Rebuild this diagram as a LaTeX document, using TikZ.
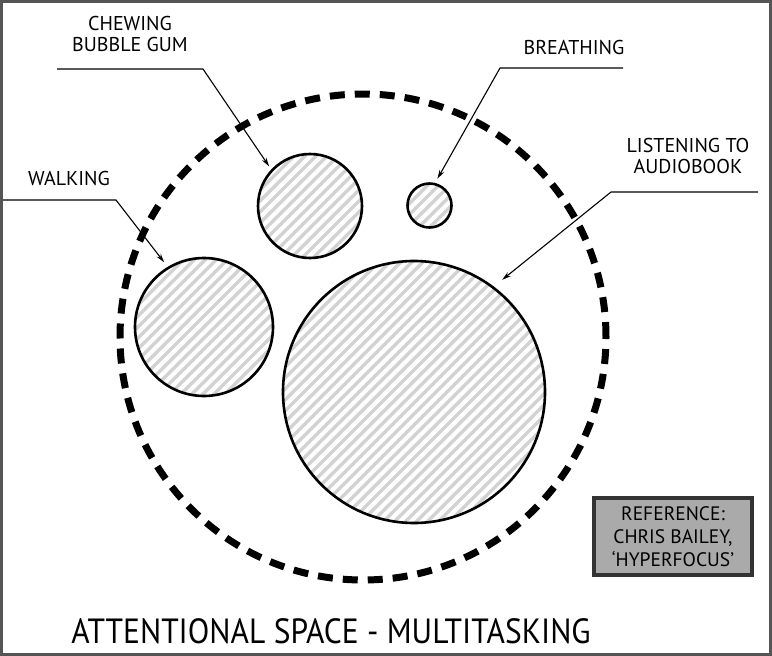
\documentclass[tikz,border=0pt]{standalone}
\usepackage{fontspec}
\setmainfont{PT Sans}
\newfontfamily\titlefont[FakeStretch=0.9]{PT Sans}
\usetikzlibrary{arrows.meta}
\definecolor{frame}{HTML}{555555}
\definecolor{hatch}{HTML}{D2D2D2}
\definecolor{refgray}{HTML}{AAAAAA}
\definecolor{refedge}{HTML}{333333}
\begin{document}
\begin{tikzpicture}[x=1pt,y=-1pt,
  hatched/.style={circle, draw=black, line width=2.6pt, inner sep=0pt, outer sep=0pt, minimum size=#1,
    path picture={\foreach \k in {-26,...,26}{\draw[hatch, line width=3.4pt]
      ([xshift=\k*11pt]path picture bounding box.center) ++(-320pt,-320pt) -- ++(640pt,640pt);}}},
  space/.style={circle, draw=black, line width=7pt, dash pattern=on 15pt off 10pt, inner sep=0pt, minimum size=#1},
  lbl/.style={font=\fontsize{20}{21.5}\selectfont, align=center, inner sep=0pt},
  leader/.style={draw=black, line width=1.1pt, -{Stealth[length=9pt,width=5pt]}},
  refbox/.style={fill=refgray, draw=refedge, line width=4pt, minimum width=158pt, minimum height=77pt,
    align=center, font=\fontsize{19.5}{23}\selectfont, inner sep=0pt},
  ]
\useasboundingbox (0,0) rectangle (772,656);
\fill[white] (0,0) rectangle (772,656);
\draw[frame, line width=3pt] (1.5,1.5) rectangle (770.5,654.5);

% attentional space
\node[space=486pt] (space) at (363,337) {};

% tasks
\node[hatched=104pt] (chew) at (310,206) {};
\node[hatched=44pt] (breath) at (429.5,205.5) {};
\node[hatched=138pt] (walk) at (204,327) {};
\node[hatched=262pt] (listen) at (414,392) {};

% labels
\node[lbl] (chewT) at (130,34) {CHEWING\\BUBBLE GUM};
\node[lbl] (breathT) at (574,47) {BREATHING};
\node[lbl] (listenT) at (688,156) {LISTENING TO\\AUDIOBOOK};
\node[lbl] (walkT) at (69,178) {WALKING};

% leaders
\coordinate (chewA) at (57,69);
\coordinate (chewB) at (203,69);
\draw[leader, shorten >=5pt] (chewA) -- (chewB) -- (chew.137);

\coordinate (walkA) at (3,200);
\coordinate (walkB) at (116,200);
\draw[leader, shorten >=7pt] (walkA) -- (walkB) -- (walk.121);

\coordinate (breathA) at (623,68);
\coordinate (breathB) at (500,68);
\draw[leader, shorten >=6pt] (breathA) -- (breathB) -- (breath.77);

\coordinate (listenA) at (758,192);
\coordinate (listenB) at (611,192);
\draw[leader, shorten >=12pt] (listenA) -- (listenB) -- (listen.53);

% reference box
\node[refbox] (ref) at (673,536.5) {REFERENCE:\\CHRIS BAILEY,\\‘HYPERFOCUS’};

% title
\node[font=\titlefont\fontsize{35}{40}\selectfont, inner sep=0pt] (title) at (331,631) {ATTENTIONAL SPACE - MULTITASKING};
\end{tikzpicture}
\end{document}
